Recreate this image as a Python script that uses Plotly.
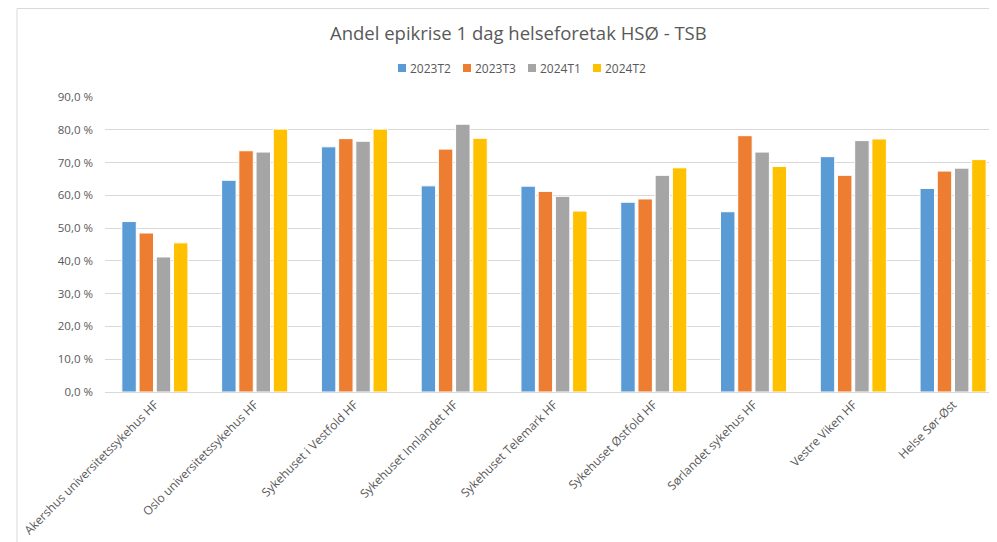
import plotly.graph_objects as go

# categories (helseforetak)
foretak = [
    "Akershus universitetssykehus HF",
    "Oslo universitetssykehus HF",
    "Sykehuset i Vestfold HF",
    "Sykehuset Innlandet HF",
    "Sykehuset Telemark HF",
    "Sykehuset Østfold HF",
    "Sørlandet sykehus HF",
    "Vestre Viken HF",
    "Helse Sør-Øst",
]

# andel epikrise innen 1 dag, prosent
t2023_2 = [52.0, 64.6, 74.8, 62.9, 62.8, 57.9, 55.0, 71.8, 62.1]
t2023_3 = [48.5, 73.6, 77.3, 74.1, 61.2, 58.9, 78.2, 66.1, 67.4]
t2024_1 = [41.2, 73.2, 76.5, 81.7, 59.7, 66.1, 73.2, 76.7, 68.3]
t2024_2 = [45.5, 80.2, 80.2, 77.4, 55.2, 68.4, 68.8, 77.2, 70.9]

perioder = ["2023T2", "2023T3", "2024T1", "2024T2"]
farger = ["#5B9BD5", "#ED7D31", "#A5A5A5", "#FFC000"]

ytick_vals = [0, 10, 20, 30, 40, 50, 60, 70, 80, 90]
ytick_text = ["0,0 %", "10,0 %", "20,0 %", "30,0 %", "40,0 %", "50,0 %",
              "60,0 %", "70,0 %", "80,0 %", "90,0 %"]

fig = go.Figure()
for navn, verdier, farge in zip(perioder, [t2023_2, t2023_3, t2024_1, t2024_2], farger):
    fig.add_trace(go.Bar(
        x=foretak,
        y=verdier,
        name=navn,
        showlegend=False,
        marker=dict(color=farge, line=dict(color="white", width=1)),
    ))

# page has an 8px body margin, so the figure is a bit smaller than the window
W, H = 989, 534
ML, MT, MB = 97, 89, 150
pw, ph = W - ML, H - MT - MB

def px(x):  # figure pixel -> paper x
    return (x - ML) / pw

def py(y):  # figure pixel -> paper y
    return 1 + (MT - y) / ph

# compact Excel-style legend: small squares + labels
shapes = [dict(
    type="rect", xref="paper", yref="paper",
    x0=px(9), x1=1.05, y0=-0.7, y1=py(0.5),
    line=dict(color="#D9D9D9", width=1),
    layer="below",
)]
annotations = []
for i, (navn, farge) in enumerate(zip(perioder, farger)):
    x0 = 390 + i * 65
    shapes.append(dict(
        type="rect", xref="paper", yref="paper",
        x0=px(x0), x1=px(x0 + 8), y0=py(64), y1=py(56),
        fillcolor=farge, line=dict(width=0),
    ))
    annotations.append(dict(
        text=navn, xref="paper", yref="paper",
        x=px(x0 + 10), y=py(60), xanchor="left", yanchor="middle",
        showarrow=False, font=dict(size=12, color="#595959"),
    ))

fig.update_layout(
    width=W,
    height=H,
    barmode="group",
    bargap=0.31,
    bargroupgap=0.16,
    plot_bgcolor="white",
    paper_bgcolor="white",
    font=dict(family="Open Sans", color="#595959", size=11),
    margin=dict(l=ML, r=0, t=MT, b=MB),
    title=dict(
        text="Andel epikrise 1 dag helseforetak HSØ - TSB",
        x=0.516, xanchor="center",
        y=0.953, yanchor="middle",
        font=dict(size=18.5, color="#595959"),
    ),
    shapes=shapes,
    annotations=annotations,
)

fig.update_xaxes(
    range=[-0.5, 8.44],
    tickangle=-45,
    showline=True,
    linecolor="#D9D9D9",
    ticks="",
    tickfont=dict(size=12, color="#595959"),
)
fig.update_yaxes(
    range=[0, 90],
    tickvals=ytick_vals,
    ticktext=ytick_text,
    showgrid=True,
    gridcolor="#D9D9D9",
    zeroline=False,
    ticks="",
    ticklabelstandoff=11,
    tickfont=dict(size=11.5, color="#595959"),
)

fig.write_html("out.html")
